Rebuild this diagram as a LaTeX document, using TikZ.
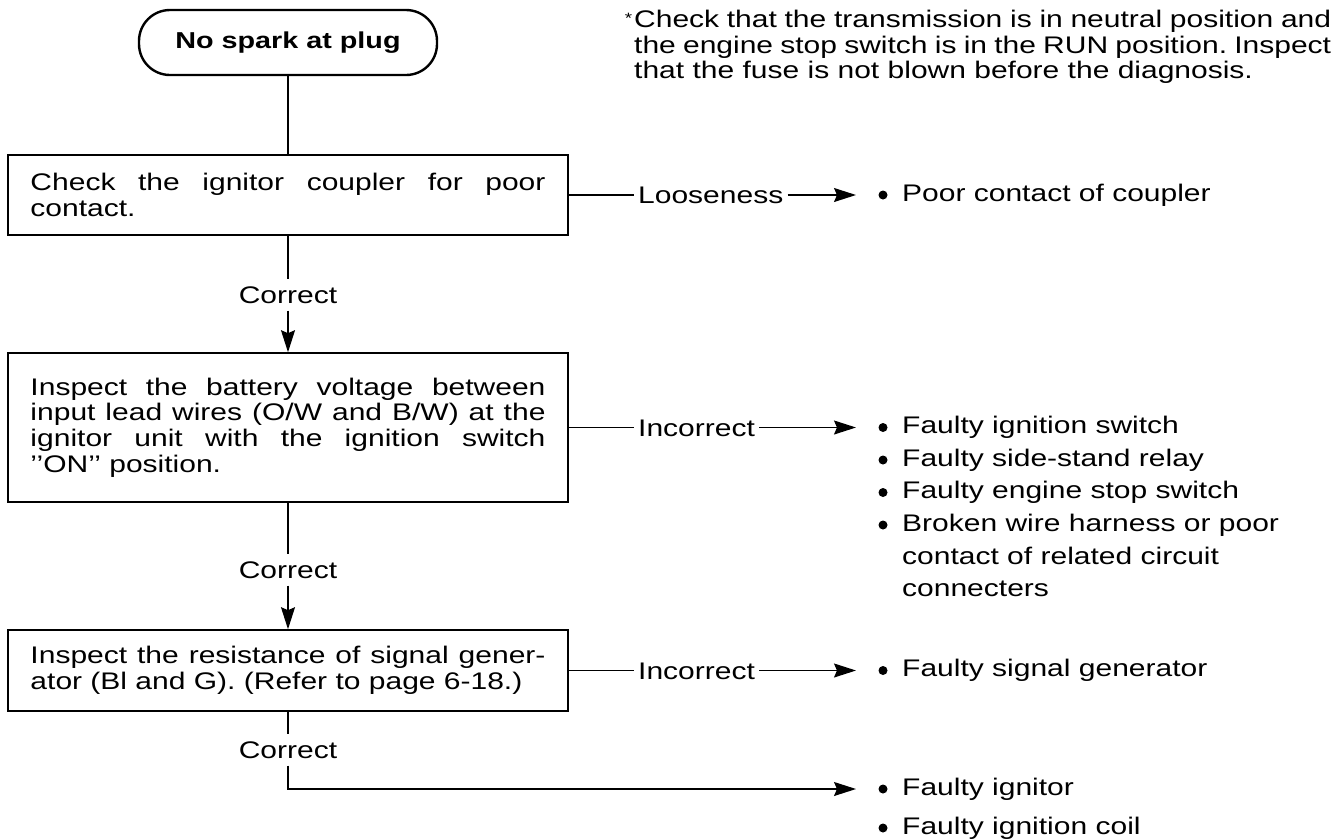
\documentclass[tikz,border=0pt]{standalone}
\usepackage{fontspec}
\setmainfont{Liberation Sans}[FakeStretch=1.25]
\usetikzlibrary{arrows.meta}
\frenchspacing

\tikzset{
  startbox/.style={draw, line width=2.4pt, rounded corners=31pt, minimum width=298pt,
    minimum height=65pt, font=\fontsize{23pt}{23pt}\selectfont\bfseries},
  checkbox/.style={draw, line width=1.6pt, minimum width=560pt, text width=515pt,
    align=justify, font=\fontsize{24pt}{25.7pt}\selectfont},
  note/.style={inner sep=0pt, text width=697pt, align=justify,
    font=\fontsize{24pt}{25.5pt}\selectfont},
  lbl/.style={inner xsep=4pt, inner ysep=7pt, text height=17pt, text depth=0pt,
    font=\fontsize{24pt}{24pt}\selectfont},
  item/.style={anchor=west, inner sep=0pt, font=\fontsize{24pt}{32.5pt}\selectfont},
  wire/.style={line width=1.3pt},
  arr/.style={line width=1.3pt, -{Stealth[length=22pt,width=14pt,inset=3pt]}},
}

\begin{document}
\begin{tikzpicture}[x=1pt,y=-1pt]
\useasboundingbox (0,0) rectangle (1339,839);

\def\bx{288};  % flow column
\def\lx{634};  % branch labels
\def\tx{856};  % arrow tips

\node[startbox] (start) at (\bx,42.5) {No spark at plug};
\node[note, anchor=north west] (note) at (634,10)
  {\leavevmode\llap{\raisebox{4pt}{\fontsize{15pt}{15pt}\selectfont *}\hspace{2pt}}Check that the transmission is in neutral position and\linebreak
   the engine stop switch is in the RUN position. Inspect\linebreak
   that the fuse is not blown before the diagnosis.};

% checks
\node[checkbox, minimum height=80pt] (coupler) at (\bx,195)
  {Check the ignitor coupler for poor\linebreak contact.};
\node[checkbox, minimum height=149pt] (battery) at (\bx,427.5)
  {Inspect the battery voltage between\linebreak
   input lead wires (O/W and B/W) at the\linebreak
   ignitor unit with the ignition switch\linebreak
   {'}{'}ON{'}{'} position.};
\node[checkbox, minimum height=81pt] (signal) at (\bx,670.5)
  {Inspect the resistance of signal gener-\linebreak
   ator (Bl and G). (Refer to page 6-18.)};

\foreach \n/\y in {c1/295, c2/570, c3/750}
  \node[lbl] (\n) at (\bx,\y) {Correct};

\node[lbl, anchor=west] (loose) at (\lx,195) {Looseness};
\node[lbl, anchor=west] (inc1) at (\lx,427.5) {Incorrect};
\node[lbl, anchor=west] (inc2) at (\lx,670.5) {Incorrect};

\foreach \n/\y in {t1/195, t2/427.5, t3/670.5, t4/789}
  \coordinate (\n) at (\tx,\y);

% results
\foreach \n/\y/\t in {r1/195/Poor contact of coupler, r2/427.5/Faulty ignition switch,
    r3/460/Faulty side-stand relay, r4/492.5/Faulty engine stop switch,
    r6/670.5/Faulty signal generator, r7/789/Faulty ignitor, r8/828/Faulty ignition coil}{
  \fill (883,\y) circle [radius=4.5];
  \node[item] (\n) at (902,\y) {\t};
}
\fill (883,525) circle [radius=4.5];
\node[item, anchor=north west, align=left] (r5) at (902,514)
  {Broken wire harness or poor\\contact of related circuit\\connecters};

% connectors
\draw[wire] (start) -- (coupler);
\draw[wire] (coupler) -- (c1);
\draw[arr] (c1) -- (battery);
\draw[wire] (battery) -- (c2);
\draw[arr] (c2) -- (signal);
\draw[wire] (signal) -- (c3);
\draw[arr] (c3) |- (t4);

\draw[wire] (coupler) -- (loose);
\draw[arr] (loose) -- (t1);
\draw[wire] (battery) -- (inc1);
\draw[arr] (inc1) -- (t2);
\draw[wire] (signal) -- (inc2);
\draw[arr] (inc2) -- (t3);

\end{tikzpicture}
\end{document}
